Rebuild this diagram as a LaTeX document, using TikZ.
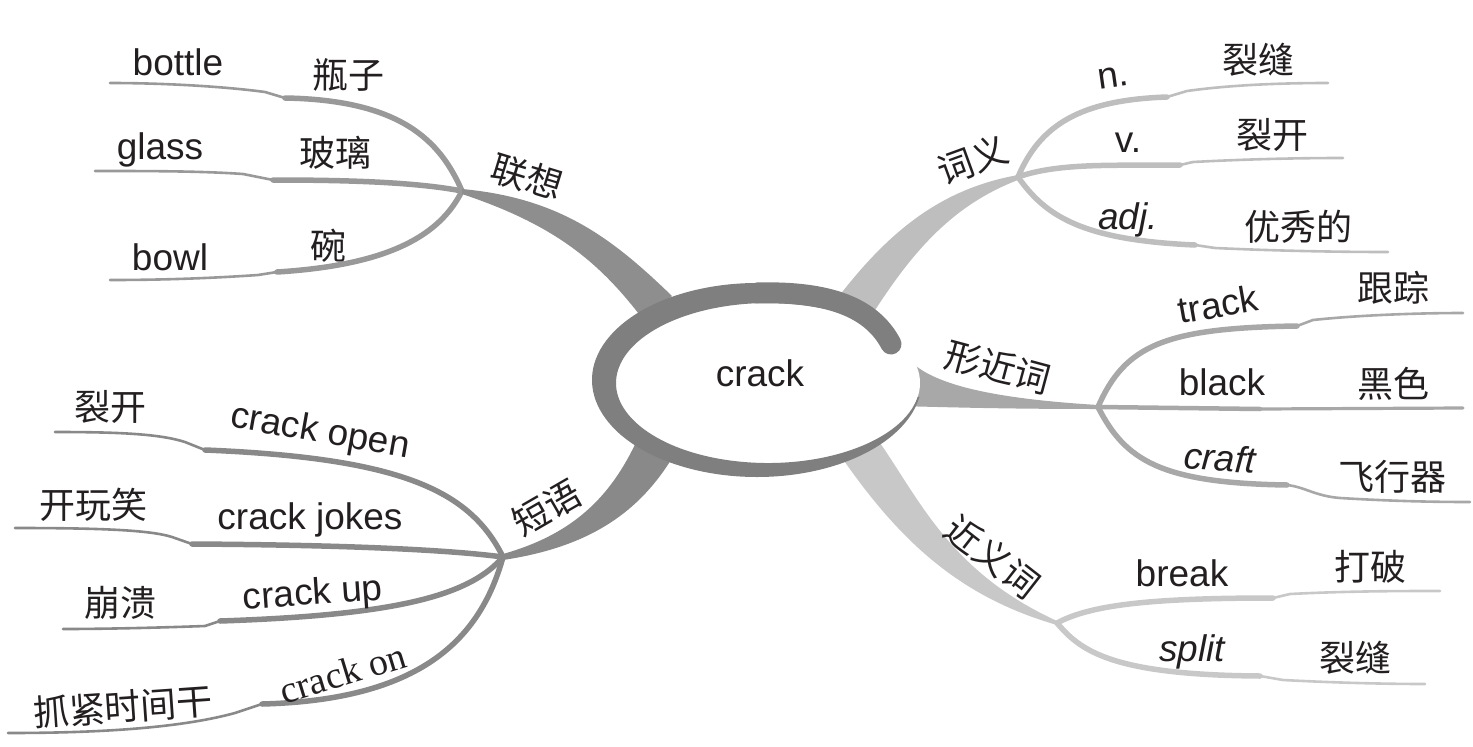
\documentclass[tikz,border=0pt]{standalone}
\usepackage{fontspec}
\setmainfont{Liberation Sans}
\newfontfamily\zhfont{Noto Sans CJK SC}
\newfontfamily\tmfont{Liberation Serif}
\definecolor{ringc}{HTML}{7F7F7F}
\definecolor{cA}{HTML}{8E8E8E}
\definecolor{cAb}{HTML}{999999}
\definecolor{cB}{HTML}{898989}
\definecolor{cC}{HTML}{BEBEBE}
\definecolor{cD}{HTML}{A8A8A8}
\definecolor{cE}{HTML}{C8C8C8}
\definecolor{txt}{HTML}{231F20}
\tikzset{
  en/.style={font=\fontsize{37}{40}\selectfont, text=txt, inner sep=0pt},
  enit/.style={font=\fontsize{37}{40}\selectfont\itshape, text=txt, inner sep=0pt},
  zh/.style={font=\fontsize{36}{40}\selectfont\zhfont, text=txt, inner sep=0pt},
  tm/.style={font=\fontsize{38}{40}\selectfont\tmfont, text=txt, inner sep=0pt},
  brin/.style={line width=5.5pt, line cap=round, line join=round},
  brout/.style={line width=2.6pt, line cap=round, line join=round},
}
\begin{document}
\begin{tikzpicture}[x=1pt,y=-1pt]
\useasboundingbox (0,0) rectangle (1473,747);

% forks
\coordinate (F1) at (462,191);
\coordinate (F2) at (503,557);
\coordinate (F3) at (1018,177);
\coordinate (F4) at (1098,407);
\coordinate (F5) at (1057,623);

% ---- 联想 sub-branches
\coordinate (s11) at (285,98);  \coordinate (e11) at (110,83);
\coordinate (s12) at (273,180); \coordinate (e12) at (95,171);
\coordinate (s13) at (277,272); \coordinate (e13) at (110,280);
\draw[brin, cAb] (F1) .. controls (440,140) and (400,100) .. (s11);
\draw[brout, cAb] (s11) -- (265,92) .. controls (220,86) and (160,83) .. (e11);
\draw[brin, cAb] (F1) .. controls (420,183) and (360,180) .. (s12);
\draw[brout, cAb] (s12) -- (243,174) .. controls (200,171) and (150,171) .. (e12);
\draw[brin, cAb] (F1) .. controls (440,235) and (390,265) .. (s13);
\draw[brout, cAb] (s13) -- (258,275) .. controls (200,279) and (150,280) .. (e13);

% ---- 短语 sub-branches
\coordinate (s21) at (205,450); \coordinate (e21) at (55,432);
\coordinate (s22) at (192,544); \coordinate (e22) at (15,528);
\coordinate (s23) at (220,621); \coordinate (e23) at (63,629);
\coordinate (s24) at (262,704); \coordinate (e24) at (8,733);
\draw[brin, cB] (F2) .. controls (470,490) and (400,458) .. (s21);
\draw[brout, cB] (s21) -- (185,442) .. controls (160,434) and (120,432) .. (e21);
\draw[brin, cB] (F2) .. controls (450,550) and (350,545) .. (s22);
\draw[brout, cB] (s22) -- (172,537) .. controls (150,530) and (100,528) .. (e22);
\draw[brin, cB] (F2) .. controls (470,595) and (400,615) .. (s23);
\draw[brout, cB] (s23) -- (205,626) .. controls (150,628) and (100,629) .. (e23);
\draw[brin, cB] (F2) .. controls (480,640) and (420,700) .. (s24);
\draw[brout, cB] (s24) -- (235,713) .. controls (180,728) and (100,733) .. (e24);

% ---- 词义 sub-branches
\coordinate (s31) at (1167,97);  \coordinate (e31) at (1328,83);
\coordinate (s32) at (1180,165); \coordinate (e32) at (1343,158);
\coordinate (s33) at (1195,245); \coordinate (e33) at (1388,252);
\draw[brin, cC] (F3) .. controls (1040,125) and (1080,100) .. (s31);
\draw[brout, cC] (s31) -- (1187,91) .. controls (1230,85) and (1280,83) .. (e31);
\draw[brin, cC] (F3) .. controls (1060,162) and (1120,166) .. (s32);
\draw[brout, cC] (s32) -- (1193,162) .. controls (1250,159) and (1300,158) .. (e32);
\draw[brin, cC] (F3) .. controls (1045,215) and (1080,240) .. (s33);
\draw[brout, cC] (s33) -- (1215,248) .. controls (1280,251) and (1340,252) .. (e33);

% ---- 形近词 sub-branches
\coordinate (s41) at (1297,326); \coordinate (e41) at (1463,313);
\coordinate (s42) at (1260,409); \coordinate (e42) at (1463,408);
\coordinate (s43) at (1287,485); \coordinate (e43) at (1470,502);
\draw[brin, cD] (F4) .. controls (1125,345) and (1165,328) .. (s41);
\draw[brout, cD] (s41) -- (1313,320) .. controls (1360,315) and (1420,313) .. (e41);
\draw[brin, cD, line width=4.5pt] (F4) -- (s42);
\draw[brout, cD, line width=3.2pt] (s42) -- (e42);
\draw[brin, cD] (F4) .. controls (1125,460) and (1160,483) .. (s43);
\draw[brout, cD] (s43) .. controls (1305,487) and (1315,496) .. (1340,498) .. controls (1390,501) and (1430,502) .. (e43);

% ---- 近义词 sub-branches
\coordinate (s51) at (1273,598); \coordinate (e51) at (1440,591);
\coordinate (s52) at (1260,676); \coordinate (e52) at (1425,684);
\draw[brin, cE] (F5) .. controls (1090,605) and (1150,598) .. (s51);
\draw[brout, cE] (s51) -- (1290,594) .. controls (1350,591) and (1400,591) .. (e51);
\draw[brin, cE] (F5) .. controls (1080,650) and (1110,675) .. (s52);
\draw[brout, cE] (s52) -- (1283,680) .. controls (1340,683) and (1390,684) .. (e52);

% ---- trunks (tapered)
\fill[cA] (462,189) .. controls (560,198) and (612,238) .. (672,296)
  -- (645,322) .. controls (600,262) and (555,225) .. (462,194) -- cycle;
\fill[cB] (503,554) .. controls (570,535) and (610,500) .. (638,438)
  -- (674,455) .. controls (640,512) and (590,547) .. (503,560) -- cycle;
\fill[cC] (1018,175) .. controls (940,189) and (888,232) .. (836,300)
  -- (870,318) .. controls (910,255) and (950,206) .. (1018,180) -- cycle;
\fill[cD] (906,356) .. controls (928,386) and (1000,399) .. (1098,405)
  -- (1098,409) .. controls (1000,409) and (940,407) .. (898,406) -- cycle;
\fill[cE] (878,440) .. controls (920,500) and (950,572) .. (1057,621)
  -- (1057,625) .. controls (960,597) and (900,542) .. (840,455) -- cycle;

% ---- central ring
\fill[white] (768,383) ellipse[x radius=152pt, y radius=80pt];
\fill[ringc] (839.5,296) arc[start angle=60, end angle=350, x radius=165pt, y radius=97pt]
  -- (917.7,396.9) arc[start angle=350, end angle=60, x radius=152pt, y radius=80pt] -- cycle;
\draw[ringc, line width=21pt, line cap=round] (757,293) .. controls (830,291) and (872,308) .. (891,344);
\node[en] (center) at (760,373) {crack};

% ---- labels: 联想
\node[zh, rotate=-17] (lx) at (527,177) {联想};
\node[en] (bottle) at (178,62) {bottle};
\node[zh] (pingzi) at (348,75) {瓶子};
\node[en] (glass) at (160,150) {glass};
\node[zh] (boli) at (335,153) {玻璃};
\node[en] (bowl) at (170,257) {bowl};
\node[zh] (wan) at (328,246) {碗};

% ---- labels: 短语
\node[zh, rotate=30] (dy) at (547,508) {短语};
\node[zh] (liekai1) at (110,407) {裂开};
\node[en, rotate=-10] (copen) at (320,433) {crack open};
\node[zh] (kwx) at (93,505) {开玩笑};
\node[en] (cjokes) at (310,520) {crack jokes};
\node[zh] (bk) at (120,603) {崩溃};
\node[en, rotate=4] (cup) at (313,595) {crack up};
\node[zh, rotate=4] (zj) at (123,707) {抓紧时间干};
\node[tm, rotate=17] (con) at (343,673) {crack on};

% ---- labels: 词义
\node[zh, rotate=20] (cy) at (973,160) {词义};
\node[en, rotate=8] (n) at (1113,77) {n.};
\node[zh] (liefeng1) at (1258,60) {裂缝};
\node[en] (v) at (1128,143) {v.};
\node[zh] (liekai2) at (1272,135) {裂开};
\node[enit] (adj) at (1128,220) {adj.};
\node[zh] (yxd) at (1298,227) {优秀的};

% ---- labels: 形近词
\node[zh, rotate=-15] (xjc) at (998,367) {形近词};
\node[en, rotate=10] (track) at (1218,304) {track};
\node[zh] (genzong) at (1393,288) {跟踪};
\node[en] (black) at (1222,382) {black};
\node[zh] (heise) at (1393,384) {黑色};
\node[enit, rotate=-4] (craft) at (1220,458) {craft};
\node[zh] (fxq) at (1392,477) {飞行器};

% ---- labels: 近义词
\node[zh, rotate=-38] (jyc) at (993,557) {近义词};
\node[en] (break) at (1182,573) {break};
\node[zh] (dapo) at (1370,567) {打破};
\node[enit] (split) at (1192,652) {split};
\node[zh] (liefeng2) at (1355,658) {裂缝};
\end{tikzpicture}
\end{document}
